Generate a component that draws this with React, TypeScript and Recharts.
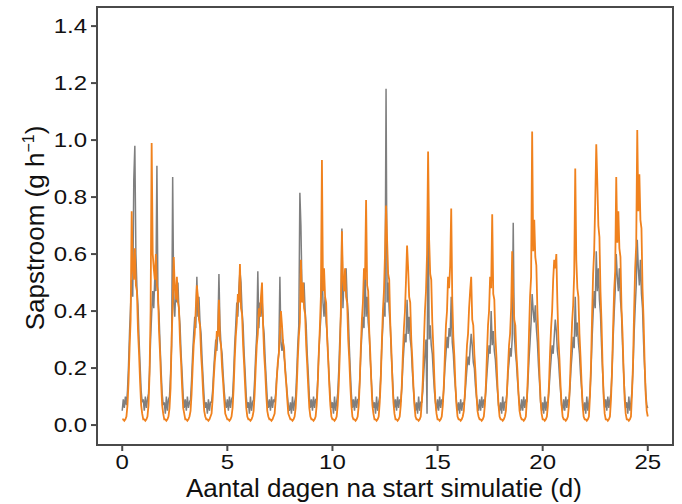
import { LineChart, Line, XAxis, YAxis } from 'recharts';

// sampling grid: one value every 0.05 day (20 per day)
const stepDays = 0.05;
const xTicks = [0, 5, 10, 15, 20, 25];
const yTicks = [0, 0.2, 0.4, 0.6, 0.8, 1.0, 1.2, 1.4];

// measured sap flow (g/h), one row per day
const measured = [
  [0.05, 0.09, 0.06, 0.10, 0.07, 0.12, 0.21, 0.33, 0.42, 0.51, 0.45, 0.86, 0.98, 0.60, 0.48, 0.42, 0.30, 0.21, 0.12, 0.08],
  [0.09, 0.05, 0.10, 0.06, 0.09, 0.11, 0.19, 0.30, 0.39, 0.47, 0.41, 0.52, 0.47, 0.91, 0.44, 0.39, 0.28, 0.19, 0.11, 0.07],
  [0.08, 0.04, 0.10, 0.05, 0.09, 0.10, 0.18, 0.28, 0.87, 0.43, 0.38, 0.48, 0.43, 0.50, 0.40, 0.35, 0.25, 0.18, 0.10, 0.06],
  [0.09, 0.05, 0.10, 0.06, 0.08, 0.09, 0.16, 0.25, 0.32, 0.38, 0.34, 0.52, 0.38, 0.45, 0.36, 0.32, 0.23, 0.16, 0.09, 0.06],
  [0.08, 0.04, 0.09, 0.05, 0.08, 0.08, 0.12, 0.19, 0.25, 0.30, 0.26, 0.33, 0.53, 0.35, 0.28, 0.25, 0.18, 0.12, 0.08, 0.06],
  [0.09, 0.05, 0.10, 0.06, 0.09, 0.10, 0.18, 0.28, 0.35, 0.43, 0.38, 0.48, 0.54, 0.50, 0.40, 0.35, 0.25, 0.18, 0.10, 0.06],
  [0.08, 0.04, 0.10, 0.05, 0.08, 0.09, 0.16, 0.25, 0.32, 0.54, 0.34, 0.43, 0.38, 0.45, 0.36, 0.32, 0.23, 0.16, 0.09, 0.06],
  [0.09, 0.05, 0.10, 0.06, 0.09, 0.08, 0.11, 0.17, 0.21, 0.26, 0.52, 0.29, 0.26, 0.30, 0.24, 0.21, 0.15, 0.11, 0.07, 0.05],
  [0.08, 0.04, 0.10, 0.05, 0.08, 0.10, 0.18, 0.28, 0.35, 0.815, 0.70, 0.48, 0.43, 0.50, 0.40, 0.35, 0.25, 0.18, 0.10, 0.06],
  [0.09, 0.05, 0.10, 0.06, 0.09, 0.09, 0.16, 0.25, 0.32, 0.38, 0.58, 0.43, 0.38, 0.45, 0.36, 0.32, 0.23, 0.16, 0.09, 0.06],
  [0.08, 0.04, 0.10, 0.05, 0.08, 0.11, 0.19, 0.30, 0.39, 0.69, 0.41, 0.52, 0.47, 0.55, 0.44, 0.39, 0.28, 0.19, 0.11, 0.06],
  [0.09, 0.05, 0.10, 0.06, 0.09, 0.09, 0.16, 0.25, 0.32, 0.38, 0.34, 0.55, 0.38, 0.45, 0.36, 0.32, 0.23, 0.16, 0.09, 0.06],
  [0.08, 0.04, 0.10, 0.05, 0.08, 0.10, 0.18, 0.28, 0.35, 0.43, 0.38, 1.18, 0.43, 0.50, 0.40, 0.35, 0.25, 0.18, 0.10, 0.06],
  [0.09, 0.05, 0.10, 0.06, 0.09, 0.08, 0.13, 0.21, 0.27, 0.32, 0.29, 0.44, 0.32, 0.38, 0.30, 0.27, 0.19, 0.13, 0.08, 0.05],
  [0.08, 0.04, 0.10, 0.05, 0.08, 0.08, 0.12, 0.19, 0.25, 0.30, 0.04, 0.87, 0.30, 0.35, 0.28, 0.25, 0.18, 0.12, 0.08, 0.05],
  [0.09, 0.05, 0.10, 0.06, 0.09, 0.08, 0.13, 0.20, 0.25, 0.31, 0.27, 0.34, 0.31, 0.45, 0.29, 0.25, 0.18, 0.13, 0.08, 0.05],
  [0.08, 0.04, 0.09, 0.05, 0.08, 0.07, 0.10, 0.15, 0.20, 0.24, 0.21, 0.27, 0.32, 0.28, 0.22, 0.20, 0.14, 0.10, 0.07, 0.05],
  [0.09, 0.05, 0.10, 0.06, 0.09, 0.08, 0.12, 0.18, 0.23, 0.28, 0.25, 0.40, 0.28, 0.33, 0.26, 0.23, 0.17, 0.12, 0.07, 0.05],
  [0.08, 0.04, 0.10, 0.05, 0.08, 0.08, 0.11, 0.18, 0.22, 0.27, 0.24, 0.30, 0.71, 0.32, 0.26, 0.22, 0.16, 0.11, 0.07, 0.05],
  [0.09, 0.05, 0.10, 0.06, 0.09, 0.08, 0.15, 0.23, 0.29, 0.36, 0.46, 0.40, 0.36, 0.42, 0.34, 0.29, 0.21, 0.15, 0.08, 0.05],
  [0.08, 0.04, 0.10, 0.05, 0.08, 0.08, 0.12, 0.18, 0.23, 0.28, 0.25, 0.31, 0.37, 0.33, 0.26, 0.23, 0.17, 0.12, 0.07, 0.05],
  [0.09, 0.05, 0.10, 0.06, 0.09, 0.08, 0.13, 0.20, 0.25, 0.31, 0.27, 0.45, 0.31, 0.36, 0.29, 0.25, 0.18, 0.13, 0.08, 0.05],
  [0.08, 0.04, 0.10, 0.05, 0.08, 0.11, 0.19, 0.30, 0.39, 0.47, 0.41, 0.61, 0.47, 0.55, 0.44, 0.39, 0.28, 0.19, 0.11, 0.06],
  [0.09, 0.05, 0.10, 0.06, 0.09, 0.11, 0.19, 0.30, 0.39, 0.47, 0.60, 0.52, 0.47, 0.55, 0.44, 0.39, 0.28, 0.19, 0.11, 0.06],
  [0.08, 0.04, 0.10, 0.05, 0.08, 0.12, 0.20, 0.32, 0.41, 0.49, 0.65, 0.55, 0.49, 0.58, 0.46, 0.41, 0.29, 0.20, 0.12, 0.07],
  [0.06],
];

// simulated sap flow (g/h), same grid
const simulated = [
  [0.02, 0.02, 0.015, 0.02, 0.03, 0.07, 0.15, 0.27, 0.37, 0.75, 0.55, 0.51, 0.62, 0.49, 0.47, 0.33, 0.25, 0.15, 0.07, 0.04],
  [0.02, 0.02, 0.015, 0.02, 0.03, 0.07, 0.18, 0.40, 0.99, 0.60, 0.55, 0.51, 0.60, 0.49, 0.47, 0.33, 0.25, 0.15, 0.07, 0.04],
  [0.02, 0.02, 0.015, 0.02, 0.03, 0.06, 0.13, 0.30, 0.42, 0.59, 0.48, 0.44, 0.52, 0.43, 0.41, 0.29, 0.22, 0.13, 0.06, 0.04],
  [0.02, 0.02, 0.015, 0.02, 0.03, 0.05, 0.11, 0.20, 0.28, 0.32, 0.41, 0.49, 0.45, 0.37, 0.35, 0.25, 0.19, 0.11, 0.05, 0.03],
  [0.02, 0.02, 0.015, 0.02, 0.03, 0.04, 0.09, 0.16, 0.22, 0.26, 0.33, 0.31, 0.44, 0.30, 0.28, 0.20, 0.15, 0.09, 0.04, 0.03],
  [0.02, 0.02, 0.015, 0.02, 0.03, 0.06, 0.13, 0.23, 0.31, 0.36, 0.46, 0.43, 0.565, 0.41, 0.39, 0.28, 0.21, 0.13, 0.06, 0.03],
  [0.02, 0.02, 0.015, 0.02, 0.03, 0.05, 0.11, 0.20, 0.28, 0.32, 0.41, 0.38, 0.45, 0.50, 0.35, 0.25, 0.19, 0.11, 0.05, 0.03],
  [0.02, 0.02, 0.015, 0.02, 0.03, 0.04, 0.09, 0.16, 0.22, 0.25, 0.32, 0.40, 0.35, 0.29, 0.27, 0.19, 0.15, 0.09, 0.04, 0.03],
  [0.02, 0.02, 0.015, 0.02, 0.03, 0.06, 0.13, 0.23, 0.31, 0.36, 0.58, 0.43, 0.50, 0.41, 0.39, 0.28, 0.21, 0.13, 0.06, 0.03],
  [0.02, 0.02, 0.015, 0.02, 0.03, 0.07, 0.14, 0.25, 0.34, 0.45, 0.93, 0.47, 0.55, 0.45, 0.43, 0.30, 0.23, 0.14, 0.07, 0.03],
  [0.02, 0.02, 0.015, 0.02, 0.03, 0.07, 0.14, 0.25, 0.40, 0.68, 0.51, 0.47, 0.55, 0.45, 0.43, 0.30, 0.23, 0.14, 0.07, 0.03],
  [0.02, 0.02, 0.015, 0.02, 0.03, 0.07, 0.15, 0.27, 0.37, 0.43, 0.55, 0.51, 0.79, 0.49, 0.47, 0.33, 0.25, 0.15, 0.07, 0.04],
  [0.02, 0.02, 0.015, 0.02, 0.03, 0.08, 0.16, 0.29, 0.40, 0.47, 0.60, 0.77, 0.65, 0.53, 0.51, 0.36, 0.27, 0.16, 0.08, 0.04],
  [0.02, 0.02, 0.015, 0.02, 0.03, 0.07, 0.14, 0.25, 0.34, 0.40, 0.51, 0.63, 0.55, 0.45, 0.43, 0.30, 0.23, 0.14, 0.07, 0.03],
  [0.02, 0.02, 0.015, 0.02, 0.03, 0.08, 0.16, 0.29, 0.40, 0.47, 0.60, 0.96, 0.65, 0.53, 0.51, 0.36, 0.27, 0.16, 0.08, 0.04],
  [0.02, 0.02, 0.015, 0.02, 0.03, 0.07, 0.14, 0.25, 0.35, 0.40, 0.52, 0.48, 0.56, 0.76, 0.44, 0.31, 0.24, 0.14, 0.07, 0.03],
  [0.02, 0.02, 0.015, 0.02, 0.03, 0.05, 0.11, 0.20, 0.28, 0.32, 0.41, 0.47, 0.52, 0.37, 0.35, 0.25, 0.19, 0.11, 0.05, 0.03],
  [0.02, 0.02, 0.015, 0.02, 0.03, 0.07, 0.14, 0.25, 0.35, 0.40, 0.52, 0.48, 0.74, 0.46, 0.44, 0.31, 0.24, 0.14, 0.07, 0.03],
  [0.02, 0.02, 0.015, 0.02, 0.03, 0.05, 0.11, 0.20, 0.28, 0.32, 0.41, 0.61, 0.45, 0.37, 0.35, 0.25, 0.19, 0.11, 0.05, 0.03],
  [0.02, 0.02, 0.015, 0.02, 0.03, 0.09, 0.18, 0.32, 0.45, 0.52, 1.03, 0.61, 0.72, 0.59, 0.56, 0.40, 0.30, 0.18, 0.09, 0.04],
  [0.02, 0.02, 0.015, 0.02, 0.03, 0.07, 0.14, 0.25, 0.34, 0.40, 0.51, 0.58, 0.55, 0.60, 0.43, 0.30, 0.23, 0.14, 0.07, 0.03],
  [0.02, 0.02, 0.015, 0.02, 0.03, 0.07, 0.15, 0.26, 0.36, 0.42, 0.53, 0.90, 0.58, 0.48, 0.45, 0.32, 0.24, 0.15, 0.07, 0.03],
  [0.02, 0.02, 0.015, 0.02, 0.03, 0.10, 0.21, 0.38, 0.53, 0.61, 0.78, 0.985, 0.85, 0.70, 0.66, 0.47, 0.36, 0.21, 0.10, 0.04],
  [0.02, 0.02, 0.015, 0.02, 0.03, 0.09, 0.19, 0.34, 0.47, 0.54, 0.87, 0.64, 0.75, 0.62, 0.59, 0.41, 0.32, 0.19, 0.09, 0.04],
  [0.02, 0.02, 0.015, 0.02, 0.03, 0.11, 0.22, 0.40, 0.55, 0.63, 1.035, 0.75, 0.88, 0.72, 0.69, 0.48, 0.37, 0.22, 0.11, 0.05],
  [0.03],
];

const measuredFlat = measured.flat();
const simulatedFlat = simulated.flat();
const data = measuredFlat.map((m, i) => ({
  t: +(i * stepDays).toFixed(2),
  measured: m,
  simulated: simulatedFlat[i],
}));

const FONT = '"Liberation Sans", Arial, sans-serif';
const TEXT = '#111111';
const FRAME = '#4a4a4a';
const X_DOMAIN: [number, number] = [-1.2, 26.2];
const Y_DOMAIN: [number, number] = [-0.07, 1.467];

// the original figure is slightly stretched horizontally
const XTick = ({ x, y, payload }: any) => (
  <text
    transform={`translate(${x},${y}) scale(1.2,1)`}
    dy="0.71em"
    textAnchor="middle"
    fontSize={20}
    fontFamily={FONT}
    fill={TEXT}
  >
    {payload.value}
  </text>
);

const YTick = ({ x, y, payload }: any) => (
  <text
    transform={`translate(${x},${y}) scale(1.2,1)`}
    dy="0.355em"
    textAnchor="end"
    fontSize={20}
    fontFamily={FONT}
    fill={TEXT}
  >
    {Number(payload.value).toFixed(1)}
  </text>
);

const YLabel = () => (
  <text
    transform="translate(44,228) rotate(-90)"
    textAnchor="middle"
    fontSize={26}
    fontFamily={FONT}
    fill={TEXT}
  >
    Sapstroom (g h
    <tspan dy={-10} fontSize={16}>−1</tspan>
    <tspan dy={10}>)</tspan>
  </text>
);

const XLabel = () => (
  <text x={384} y={497} textAnchor="middle" fontSize={26} fontFamily={FONT} fill={TEXT}>
    Aantal dagen na start simulatie (d)
  </text>
);

export default function App() {
  return (
    <div style={{ position: 'absolute', left: 0, top: 0, width: 682, height: 504, background: '#fff' }}>
      <LineChart width={682} height={504} data={data} margin={{ top: 7, right: 9, bottom: 0, left: 0 }}>
        <XAxis
          dataKey="t"
          type="number"
          domain={X_DOMAIN}
          ticks={xTicks}
          allowDataOverflow
          height={59}
          stroke={FRAME}
          strokeWidth={2}
          tickSize={6}
          tickMargin={4}
          tick={<XTick />}
          label={<XLabel />}
        />
        <YAxis
          type="number"
          domain={Y_DOMAIN}
          ticks={yTicks}
          allowDataOverflow
          width={97}
          stroke={FRAME}
          strokeWidth={2}
          tickSize={6}
          tickMargin={4}
          tick={<YTick />}
          label={<YLabel />}
        />
        <Line
          dataKey="measured"
          stroke="#7f7f7f"
          strokeWidth={1.5}
          dot={false}
          isAnimationActive={false}
        />
        <Line
          dataKey="simulated"
          stroke="#F0821E"
          strokeWidth={1.8}
          dot={false}
          isAnimationActive={false}
        />
      </LineChart>
      {/* box around the plot panel */}
      <div
        style={{
          position: 'absolute',
          left: 96,
          top: 6,
          width: 578,
          height: 440,
          boxSizing: 'border-box',
          border: `2px solid ${FRAME}`,
          pointerEvents: 'none',
        }}
      />
    </div>
  );
}
